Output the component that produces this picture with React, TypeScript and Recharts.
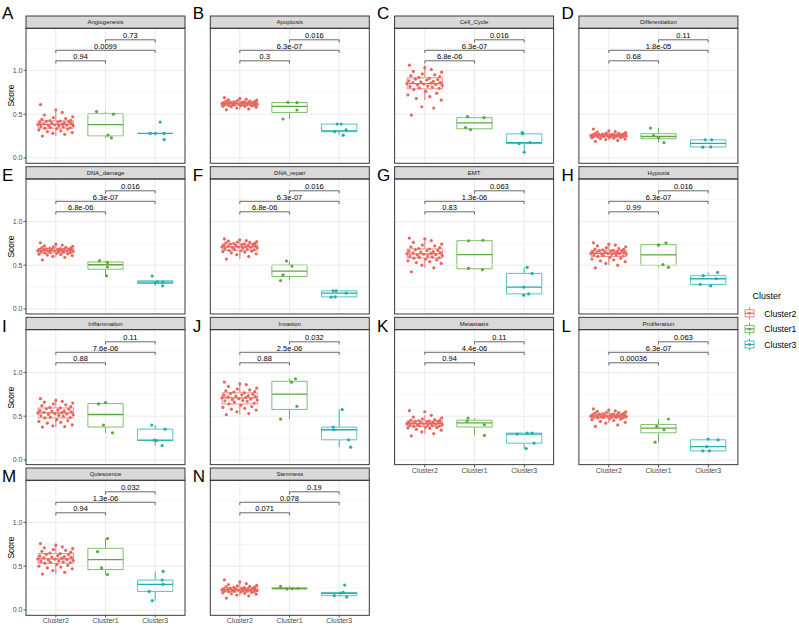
import React from "react";
import { ScatterChart, Scatter, XAxis, YAxis, ReferenceLine, ReferenceArea } from "recharts";

const FONT = '"Liberation Sans", Arial, Helvetica, sans-serif';

// ---------- categories / labels ----------
const clusterNames = ["Cluster2", "Cluster1", "Cluster3"];
const legendOrder = ["Cluster2", "Cluster1", "Cluster3"];
const clusterColors = ["#E8675F", "#5AAA3E", "#22AFAF"];
const yTicks = [0, 0.5, 1.0];
const gridMajor = [0, 0.5, 1.0];
const gridMinor = [0.25, 0.75, 1.25];
const panelNames = [
  "Angiogenesis", "Apoptosis", "Cell_Cycle", "Differentiation",
  "DNA_damage", "DNA_repair", "EMT", "Hypoxia",
  "Inflammation", "Invasion", "Metastasis", "Proliferation",
  "Quiescence", "Stemness",
];
const panelTags = ["A", "B", "C", "D", "E", "F", "G", "H", "I", "J", "K", "L", "M", "N"];

// p-values: [Cluster2 vs Cluster1, Cluster2 vs Cluster3, Cluster1 vs Cluster3]
const pValues = [
  ["0.94", "0.0099", "0.73"],
  ["0.3", "6.3e-07", "0.016"],
  ["6.8e-06", "6.3e-07", "0.016"],
  ["0.68", "1.8e-05", "0.11"],
  ["6.8e-06", "6.3e-07", "0.016"],
  ["6.8e-06", "6.3e-07", "0.016"],
  ["0.83", "1.3e-06", "0.063"],
  ["0.99", "6.3e-07", "0.016"],
  ["0.88", "7.6e-06", "0.11"],
  ["0.88", "2.5e-06", "0.032"],
  ["0.94", "4.4e-06", "0.11"],
  ["0.00036", "6.3e-07", "0.063"],
  ["0.94", "1.3e-06", "0.032"],
  ["0.071", "0.078", "0.19"],
];
// comparison pairs and their label heights
const bracketPairs = [[1, 2], [1, 3], [2, 3]];
const bracketHeights = [1.11, 1.23, 1.35];

// ---------- Cluster2 scores (jittered points) ----------
const jitterC2 = [-0.27, 0.18, -0.06, 0.33, -0.17, 0.1, -0.34, 0.24, 0.02, -0.22, 0.29, -0.11, 0.15, -0.3, 0.06, 0.35, -0.15, 0.22, -0.02, -0.36, 0.12, -0.24, 0.31, -0.08, 0.17, -0.32, 0.04, 0.26, -0.19, 0.09, -0.12, 0.3, -0.28, 0.2, -0.05, 0.34, -0.23, 0.13, 0.0, -0.31];
const c2A = [0.25, 0.27, 0.28, 0.29, 0.30, 0.31, 0.32, 0.33, 0.335, 0.34, 0.345, 0.35, 0.355, 0.36, 0.365, 0.37, 0.372, 0.375, 0.378, 0.382, 0.385, 0.39, 0.395, 0.40, 0.403, 0.406, 0.41, 0.415, 0.418, 0.422, 0.426, 0.43, 0.44, 0.45, 0.46, 0.47, 0.49, 0.52, 0.55, 0.61];
const c2B = [0.55, 0.56, 0.57, 0.58, 0.585, 0.59, 0.592, 0.595, 0.598, 0.60, 0.603, 0.606, 0.608, 0.61, 0.612, 0.614, 0.616, 0.617, 0.618, 0.62, 0.622, 0.624, 0.626, 0.628, 0.63, 0.632, 0.634, 0.636, 0.638, 0.64, 0.642, 0.645, 0.648, 0.65, 0.655, 0.66, 0.665, 0.67, 0.68, 0.69];
const c2C = [0.49, 0.57, 0.585, 0.66, 0.68, 0.70, 0.72, 0.74, 0.76, 0.78, 0.795, 0.80, 0.81, 0.815, 0.82, 0.83, 0.835, 0.84, 0.845, 0.85, 0.855, 0.86, 0.865, 0.87, 0.875, 0.88, 0.89, 0.895, 0.90, 0.91, 0.92, 0.93, 0.94, 0.95, 0.96, 0.98, 0.99, 1.01, 1.03, 1.06];
const c2D = [0.19, 0.20, 0.21, 0.215, 0.22, 0.225, 0.23, 0.233, 0.236, 0.24, 0.242, 0.244, 0.246, 0.248, 0.25, 0.251, 0.252, 0.253, 0.254, 0.255, 0.257, 0.259, 0.26, 0.262, 0.263, 0.265, 0.266, 0.267, 0.268, 0.27, 0.272, 0.275, 0.278, 0.28, 0.285, 0.29, 0.295, 0.30, 0.31, 0.33];
const c2E = [0.56, 0.59, 0.60, 0.61, 0.615, 0.62, 0.625, 0.63, 0.635, 0.64, 0.643, 0.646, 0.649, 0.652, 0.655, 0.658, 0.66, 0.662, 0.664, 0.667, 0.67, 0.672, 0.674, 0.676, 0.678, 0.68, 0.682, 0.684, 0.687, 0.69, 0.693, 0.696, 0.70, 0.705, 0.71, 0.715, 0.72, 0.73, 0.74, 0.755];
const c2F = [0.57, 0.60, 0.62, 0.63, 0.64, 0.65, 0.655, 0.66, 0.665, 0.67, 0.675, 0.68, 0.685, 0.69, 0.695, 0.70, 0.702, 0.705, 0.707, 0.71, 0.713, 0.716, 0.72, 0.723, 0.726, 0.73, 0.733, 0.736, 0.74, 0.744, 0.747, 0.75, 0.755, 0.76, 0.765, 0.77, 0.775, 0.78, 0.79, 0.80];
const c2G = [0.425, 0.47, 0.50, 0.52, 0.53, 0.54, 0.55, 0.56, 0.57, 0.58, 0.585, 0.59, 0.595, 0.60, 0.605, 0.61, 0.615, 0.62, 0.625, 0.63, 0.635, 0.64, 0.645, 0.65, 0.655, 0.66, 0.665, 0.67, 0.675, 0.685, 0.69, 0.70, 0.71, 0.72, 0.73, 0.74, 0.76, 0.78, 0.80, 0.81];
const c2H = [0.47, 0.50, 0.52, 0.54, 0.55, 0.56, 0.57, 0.58, 0.59, 0.60, 0.605, 0.61, 0.615, 0.62, 0.624, 0.627, 0.63, 0.632, 0.634, 0.636, 0.64, 0.643, 0.646, 0.65, 0.653, 0.656, 0.66, 0.663, 0.666, 0.67, 0.675, 0.68, 0.685, 0.69, 0.70, 0.71, 0.72, 0.73, 0.74, 0.755];
const c2I = [0.376, 0.38, 0.39, 0.40, 0.42, 0.43, 0.44, 0.45, 0.46, 0.48, 0.485, 0.49, 0.50, 0.505, 0.51, 0.515, 0.52, 0.525, 0.53, 0.537, 0.54, 0.545, 0.55, 0.555, 0.56, 0.565, 0.57, 0.58, 0.585, 0.594, 0.60, 0.61, 0.62, 0.63, 0.64, 0.65, 0.66, 0.67, 0.68, 0.70];
const c2J = [0.517, 0.53, 0.55, 0.57, 0.58, 0.59, 0.60, 0.61, 0.625, 0.64, 0.65, 0.66, 0.67, 0.675, 0.68, 0.685, 0.69, 0.695, 0.70, 0.71, 0.715, 0.72, 0.725, 0.73, 0.735, 0.74, 0.745, 0.75, 0.76, 0.767, 0.775, 0.78, 0.79, 0.80, 0.81, 0.82, 0.84, 0.86, 0.87, 0.89];
const c2K = [0.276, 0.30, 0.32, 0.34, 0.35, 0.36, 0.365, 0.37, 0.376, 0.383, 0.386, 0.39, 0.393, 0.396, 0.40, 0.403, 0.406, 0.408, 0.411, 0.414, 0.417, 0.42, 0.423, 0.426, 0.429, 0.432, 0.435, 0.438, 0.441, 0.445, 0.448, 0.452, 0.456, 0.46, 0.47, 0.48, 0.49, 0.51, 0.55, 0.563];
const c2L = [0.383, 0.40, 0.42, 0.43, 0.44, 0.45, 0.46, 0.465, 0.47, 0.48, 0.483, 0.486, 0.488, 0.49, 0.492, 0.494, 0.495, 0.497, 0.498, 0.50, 0.502, 0.505, 0.507, 0.51, 0.512, 0.514, 0.516, 0.519, 0.522, 0.525, 0.528, 0.532, 0.536, 0.54, 0.545, 0.55, 0.555, 0.56, 0.57, 0.583];
const c2M = [0.41, 0.43, 0.45, 0.47, 0.48, 0.49, 0.50, 0.51, 0.52, 0.534, 0.54, 0.545, 0.55, 0.555, 0.56, 0.565, 0.57, 0.575, 0.58, 0.583, 0.59, 0.595, 0.60, 0.605, 0.61, 0.615, 0.62, 0.63, 0.635, 0.644, 0.65, 0.66, 0.67, 0.68, 0.69, 0.70, 0.71, 0.72, 0.74, 0.758];
const c2N = [0.136, 0.16, 0.17, 0.18, 0.185, 0.19, 0.195, 0.20, 0.204, 0.208, 0.21, 0.212, 0.215, 0.217, 0.22, 0.222, 0.224, 0.226, 0.228, 0.23, 0.232, 0.234, 0.236, 0.238, 0.24, 0.242, 0.244, 0.247, 0.25, 0.254, 0.257, 0.26, 0.265, 0.27, 0.275, 0.28, 0.29, 0.30, 0.32, 0.344];

// ---------- Cluster1 / Cluster3 scores and their jitter ----------
const c1A = [0.53, 0.50, 0.26, 0.23]; const j1A = [-0.18, 0.16, 0.05, 0.12];
const c3A = [0.41, 0.28, 0.28, 0.28, 0.21]; const j3A = [0.1, 0.0, 0.18, -0.1, 0.18];
const c1B = [0.636, 0.632, 0.548, 0.445]; const j1B = [-0.03, 0.15, 0.15, -0.13];
const c3B = [0.387, 0.387, 0.30, 0.32, 0.26]; const j3B = [-0.04, 0.04, -0.09, 0.14, 0.08];
const c1C = [0.471, 0.46, 0.348, 0.322]; const j1C = [-0.14, 0.19, -0.18, -0.08];
const c3C = [0.29, 0.275, 0.164, 0.176, 0.065]; const j3C = [-0.04, -0.03, -0.1, 0.12, 0.0];
const c1D = [0.341, 0.256, 0.233, 0.176]; const j1D = [-0.16, -0.1, 0.0, 0.11];
const c3D = [0.207, 0.207, 0.123, 0.126]; const j3D = [-0.06, 0.07, -0.11, 0.05];
const c1E = [0.552, 0.532, 0.479, 0.379]; const j1E = [-0.12, 0.04, 0.04, 0.02];
const c3E = [0.376, 0.31, 0.306, 0.30, 0.264]; const j3E = [-0.06, 0.04, 0.15, 0.0, 0.15];
const c1F = [0.548, 0.49, 0.39, 0.325]; const j1F = [-0.06, 0.05, -0.13, -0.18];
const c3F = [0.207, 0.207, 0.18, 0.134, 0.138]; const j3F = [-0.12, -0.06, 0.14, -0.16, -0.08];
const c1G = [0.778, 0.785, 0.463, 0.448]; const j1G = [-0.12, 0.17, -0.12, 0.16];
const c3G = [0.475, 0.406, 0.249, 0.157, 0.172]; const j3G = [0.06, 0.16, -0.01, -0.01, 0.09];
const c1H = [0.755, 0.728, 0.506, 0.475]; const j1H = [0.15, 0.0, 0.09, 0.2];
const c3H = [0.417, 0.38, 0.345, 0.28, 0.264]; const j3H = [0.19, -0.1, 0.16, -0.16, 0.05];
const c1I = [0.64, 0.655, 0.398, 0.31]; const j1I = [-0.14, 0.0, -0.04, 0.14];
const c3I = [0.398, 0.352, 0.226, 0.222, 0.165]; const j3I = [-0.07, 0.2, -0.02, 0.03, 0.14];
const c1J = [0.928, 0.889, 0.613, 0.467]; const j1J = [0.12, 0.04, 0.15, -0.18];
const c3J = [0.575, 0.375, 0.345, 0.23, 0.146]; const j3J = [0.06, -0.12, -0.11, 0.19, 0.23];
const c1K = [0.479, 0.445, 0.402, 0.28]; const j1K = [-0.13, -0.15, 0.2, 0.2];
const c3K = [0.295, 0.307, 0.307, 0.192, 0.13]; const j3K = [-0.14, 0.06, 0.16, 0.2, 0.04];
const c1L = [0.468, 0.383, 0.345, 0.203]; const j1L = [0.2, -0.035, 0.11, -0.07];
const c3L = [0.238, 0.23, 0.153, 0.103, 0.103]; const j3L = [0.0, 0.2, -0.03, -0.11, 0.025];
const c1M = [0.815, 0.667, 0.48, 0.405]; const j1M = [0.04, -0.16, -0.08, 0.04];
const c3M = [0.44, 0.341, 0.292, 0.212, 0.106]; const j3M = [0.16, 0.14, 0.16, -0.12, -0.06];
const c1N = [0.269, 0.247, 0.243, 0.24]; const j1N = [-0.18, 0.17, 0.05, -0.05];
const c3N = [0.284, 0.193, 0.163, 0.148, 0.20]; const j3N = [0.11, 0.02, -0.1, 0.15, 0.08];

// ---------- box statistics [lower whisker, Q1, median, Q3, upper whisker] per cluster ----------
const boxA = [[0.25, 0.34, 0.383, 0.424, 0.55], [0.23, 0.2525, 0.38, 0.5075, 0.53], [0.28, 0.28, 0.28, 0.28, 0.28]];
const boxB = [[0.55, 0.60, 0.62, 0.64, 0.69], [0.445, 0.52, 0.59, 0.633, 0.636], [0.26, 0.30, 0.31, 0.387, 0.387]];
const boxC = [[0.66, 0.79, 0.85, 0.916, 1.06], [0.322, 0.333, 0.40, 0.46, 0.471], [0.065, 0.164, 0.176, 0.275, 0.29]];
const boxD = [[0.20, 0.24, 0.255, 0.27, 0.31], [0.176, 0.219, 0.245, 0.277, 0.341], [0.123, 0.125, 0.167, 0.207, 0.207]];
const boxE = [[0.59, 0.64, 0.667, 0.69, 0.755], [0.379, 0.454, 0.505, 0.537, 0.552], [0.264, 0.291, 0.306, 0.322, 0.322]];
const boxF = [[0.57, 0.67, 0.71, 0.744, 0.80], [0.325, 0.371, 0.433, 0.502, 0.548], [0.134, 0.138, 0.18, 0.207, 0.207]];
const boxG = [[0.47, 0.583, 0.63, 0.686, 0.81], [0.448, 0.459, 0.62, 0.78, 0.785], [0.157, 0.172, 0.249, 0.406, 0.475]];
const boxH = [[0.50, 0.60, 0.636, 0.67, 0.755], [0.475, 0.498, 0.617, 0.735, 0.755], [0.264, 0.28, 0.345, 0.38, 0.417]];
const boxI = [[0.376, 0.48, 0.537, 0.594, 0.70], [0.31, 0.376, 0.519, 0.644, 0.655], [0.165, 0.222, 0.226, 0.352, 0.398]];
const boxJ = [[0.517, 0.64, 0.71, 0.767, 0.89], [0.467, 0.577, 0.751, 0.899, 0.928], [0.146, 0.23, 0.345, 0.375, 0.575]];
const boxK = [[0.30, 0.383, 0.414, 0.445, 0.51], [0.28, 0.376, 0.424, 0.4535, 0.479], [0.13, 0.192, 0.295, 0.307, 0.307]];
const boxL = [[0.42, 0.48, 0.50, 0.525, 0.583], [0.203, 0.31, 0.364, 0.404, 0.468], [0.103, 0.103, 0.153, 0.23, 0.238]];
const boxM = [[0.41, 0.534, 0.583, 0.644, 0.758], [0.405, 0.461, 0.574, 0.704, 0.815], [0.106, 0.212, 0.292, 0.341, 0.44]];
const boxN = [[0.16, 0.208, 0.23, 0.254, 0.32], [0.24, 0.242, 0.245, 0.2525, 0.269], [0.148, 0.163, 0.19, 0.20, 0.20]];

const c2All = [c2A, c2B, c2C, c2D, c2E, c2F, c2G, c2H, c2I, c2J, c2K, c2L, c2M, c2N];
const c1All = [c1A, c1B, c1C, c1D, c1E, c1F, c1G, c1H, c1I, c1J, c1K, c1L, c1M, c1N];
const j1All = [j1A, j1B, j1C, j1D, j1E, j1F, j1G, j1H, j1I, j1J, j1K, j1L, j1M, j1N];
const c3All = [c3A, c3B, c3C, c3D, c3E, c3F, c3G, c3H, c3I, c3J, c3K, c3L, c3M, c3N];
const j3All = [j3A, j3B, j3C, j3D, j3E, j3F, j3G, j3H, j3I, j3J, j3K, j3L, j3M, j3N];
const boxAll = [boxA, boxB, boxC, boxD, boxE, boxF, boxG, boxH, boxI, boxJ, boxK, boxL, boxM, boxN];

// ---------- layout ----------
const PLOT_W = 159;
const PLOT_H = 135;
const STRIP_H = 12.3;
const Y_DOMAIN = [-0.058, 1.485];
const X_DOMAIN = [0.4, 3.6];
const BOX_HALF = 0.355;
const TICK_DROP = 0.03;
const POINT_R = 1.6;
const colLeft = (c: number) => 26 + 184.3 * c;
const rowTop = (r: number) => 28.3 + 150.67 * r;
const tagBaseline = [18.5, 181, 331.5, 481.5];
const bottomPanels = [10, 11, 12, 13];

function PanelChart({ idx }: { idx: number }) {
  const col = idx % 4;
  const row = Math.floor(idx / 4);
  const showY = col === 0;
  const showX = bottomPanels.includes(idx);
  const yW = showY ? 26 : 0;
  const xH = showX ? 16 : 0;
  const box = boxAll[idx];
  const series = [
    c2All[idx].map((v, i) => ({ x: 1 + jitterC2[i], y: v })),
    c1All[idx].map((v, i) => ({ x: 2 + j1All[idx][i], y: v })),
    c3All[idx].map((v, i) => ({ x: 3 + j3All[idx][i], y: v })),
  ];
  const tickStyle = { fontSize: 7, fill: "#4D4D4D", fontFamily: FONT };
  return (
    <div style={{ position: "absolute", left: colLeft(col) - yW, top: rowTop(row) }}>
      <ScatterChart width={PLOT_W + yW} height={PLOT_H + xH} margin={{ top: 0, right: 0, bottom: 0, left: 0 }}>
        <XAxis
          type="number"
          dataKey="x"
          domain={X_DOMAIN}
          allowDataOverflow
          ticks={[1, 2, 3]}
          interval={0}
          hide={!showX}
          height={16}
          tickFormatter={(v: number) => clusterNames[Math.round(v) - 1]}
          axisLine={false}
          tickLine={{ stroke: "#333333", strokeWidth: 0.8 }}
          tickSize={2.5}
          tickMargin={1}
          tick={tickStyle}
        />
        <YAxis
          type="number"
          dataKey="y"
          domain={Y_DOMAIN}
          allowDataOverflow
          ticks={yTicks}
          interval={0}
          hide={!showY}
          width={26}
          tickFormatter={(v: number) => v.toFixed(1)}
          axisLine={false}
          tickLine={{ stroke: "#333333", strokeWidth: 0.8 }}
          tickSize={2.5}
          tickMargin={1}
          tick={tickStyle}
          label={showY ? { value: "Score", angle: -90, position: "insideLeft", offset: 10.7, style: { textAnchor: "middle", fontSize: 8.5, fill: "#000", fontFamily: FONT } } : undefined}
        />
        {gridMinor.map((v) => (
          <ReferenceLine key={"mn" + v} y={v} stroke="#F0F0F0" strokeWidth={0.6} />
        ))}
        {gridMajor.map((v) => (
          <ReferenceLine key={"mj" + v} y={v} stroke="#EBEBEB" strokeWidth={1} />
        ))}
        {[1, 2, 3].map((v) => (
          <ReferenceLine key={"vx" + v} x={v} stroke="#EBEBEB" strokeWidth={1} />
        ))}
        {box.map((b, k) => {
          const c = k + 1;
          const col2 = clusterColors[k];
          return [
            <ReferenceLine key={"wl" + k} segment={[{ x: c, y: b[0] }, { x: c, y: b[1] }]} stroke={col2} strokeWidth={0.9} />,
            <ReferenceLine key={"wh" + k} segment={[{ x: c, y: b[3] }, { x: c, y: b[4] }]} stroke={col2} strokeWidth={0.9} />,
            <ReferenceArea key={"bx" + k} x1={c - BOX_HALF} x2={c + BOX_HALF} y1={b[1]} y2={b[3]} fill="#FFFFFF" fillOpacity={0} stroke={col2} strokeWidth={0.9} strokeOpacity={0.85} />,
            <ReferenceLine key={"md" + k} segment={[{ x: c - BOX_HALF, y: b[2] }, { x: c + BOX_HALF, y: b[2] }]} stroke={col2} strokeWidth={1.3} />,
          ];
        })}
        {series.map((pts, k) => (
          <Scatter
            key={"s" + k}
            name={clusterNames[k]}
            data={pts}
            fill={clusterColors[k]}
            isAnimationActive={false}
            shape={(props: any) => <circle cx={props.cx} cy={props.cy} r={POINT_R} fill={clusterColors[k]} />}
          />
        ))}
        {bracketPairs.map(([a, b], i) => {
          const h = bracketHeights[i];
          return [
            <ReferenceLine
              key={"br" + i}
              segment={[{ x: a, y: h }, { x: b, y: h }]}
              stroke="#444444"
              strokeWidth={0.8}
              label={{ value: pValues[idx][i], position: "top", offset: 1.5, fontSize: 7.5, fill: "#000000", fontFamily: FONT }}
            />,
            <ReferenceLine key={"bl" + i} segment={[{ x: a, y: h }, { x: a, y: h - TICK_DROP }]} stroke="#444444" strokeWidth={0.8} />,
            <ReferenceLine key={"bb" + i} segment={[{ x: b, y: h }, { x: b, y: h - TICK_DROP }]} stroke="#444444" strokeWidth={0.8} />,
          ];
        })}
      </ScatterChart>
    </div>
  );
}

function Overlay() {
  return (
    <svg width={799} height={626} style={{ position: "absolute", left: 0, top: 0, pointerEvents: "none" }} fontFamily={FONT}>
      {panelNames.map((name, idx) => {
        const col = idx % 4;
        const row = Math.floor(idx / 4);
        const x = colLeft(col);
        const y = rowTop(row);
        return (
          <g key={name}>
            <rect x={x} y={y - STRIP_H} width={PLOT_W} height={STRIP_H} fill="#D9D9D9" stroke="#3A3A3A" strokeWidth={1} />
            <text x={x + PLOT_W / 2} y={y - STRIP_H / 2 + 2.1} fontSize={6} fill="#1A1A1A" textAnchor="middle">{name}</text>
            <rect x={x} y={y} width={PLOT_W} height={PLOT_H} fill="none" stroke="#3A3A3A" strokeWidth={1} />
            <text x={col === 0 ? 2 : x - 17.5} y={tagBaseline[row]} fontSize={17} fill="#000">{panelTags[idx]}</text>
          </g>
        );
      })}
      <text x={752.5} y={298.5} fontSize={9} fill="#000">Cluster</text>
      {legendOrder.map((nm, i) => {
        const cy = 313.3 + 15.6 * i;
        const col = clusterColors[i];
        return (
          <g key={nm}>
            <line x1={749.5} x2={749.5} y1={cy - 6} y2={cy + 6} stroke={col} strokeWidth={0.9} />
            <rect x={745} y={cy - 3.5} width={9} height={7} fill="#FFFFFF" stroke={col} strokeWidth={0.9} strokeOpacity={0.85} />
            <line x1={745} x2={754} y1={cy} y2={cy} stroke={col} strokeWidth={1.2} />
            <circle cx={749.5} cy={cy} r={1.5} fill={col} />
            <text x={764.3} y={cy + 3.2} fontSize={8.6} fill="#000">{nm}</text>
          </g>
        );
      })}
    </svg>
  );
}

export default function App() {
  return (
    <div style={{ position: "absolute", left: 0, top: 0, width: 799, height: 626, background: "#FFFFFF", fontFamily: FONT }}>
      {panelNames.map((_, idx) => (
        <PanelChart key={idx} idx={idx} />
      ))}
      <Overlay />
    </div>
  );
}
